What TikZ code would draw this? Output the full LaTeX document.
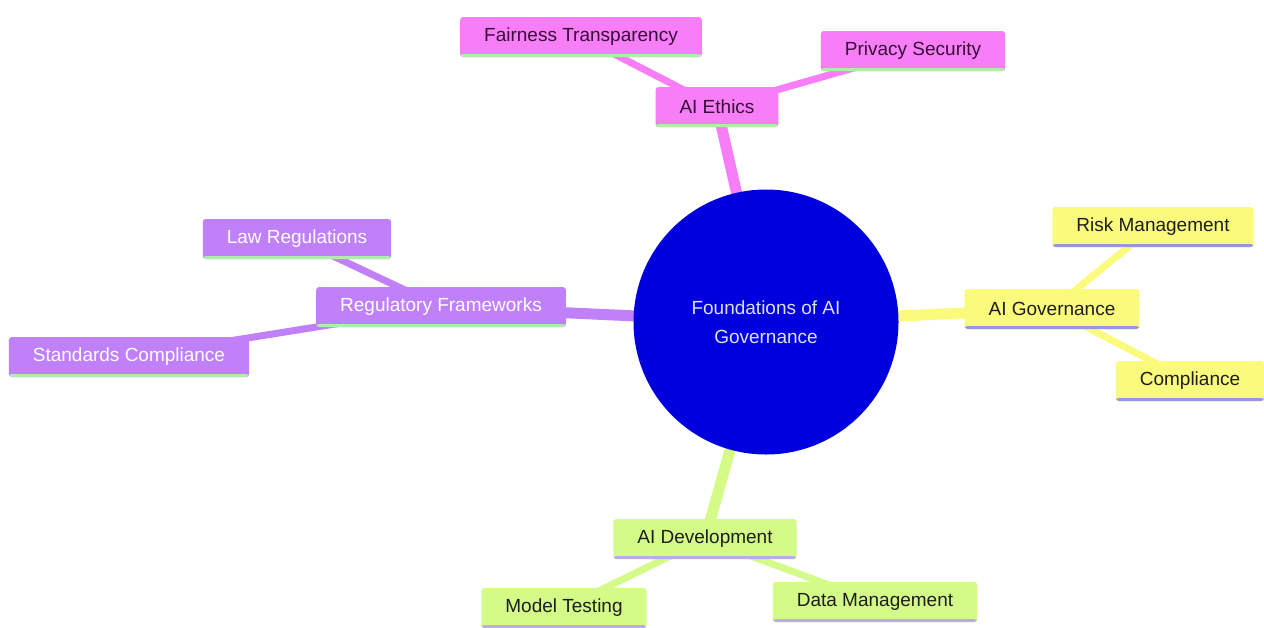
\documentclass[tikz,border=0pt]{standalone}
\usepackage{fontspec}
\setmainfont{Liberation Sans}
\usepackage{tikz}
\usetikzlibrary{backgrounds}

\definecolor{ethicsfill}{RGB}{247,126,247}
\definecolor{regfill}{RGB}{192,128,250}
\definecolor{govfill}{RGB}{250,250,125}
\definecolor{devfill}{RGB}{212,250,135}
\definecolor{rootfill}{RGB}{0,0,222}
\definecolor{roottext}{RGB}{222,222,245}
\definecolor{ethicstext}{RGB}{55,12,55}
\definecolor{darktext}{RGB}{30,30,30}
\definecolor{greenline}{RGB}{175,238,170}
\definecolor{blueline}{RGB}{150,150,222}
\definecolor{lilacline}{RGB}{185,172,232}

\tikzset{
  topic/.style 2 args={shape=rectangle, rounded corners=3pt, fill=#1, inner xsep=24pt,
    inner ysep=0pt, minimum height=40pt, font=\fontsize{19}{22}\selectfont,
    path picture={\fill[#2] ([yshift=3pt]path picture bounding box.south west)
      rectangle (path picture bounding box.south east);}},
  ethics/.style={topic={ethicsfill}{greenline}, text=ethicstext},
  reg/.style={topic={regfill}{greenline}, text=white},
  gov/.style={topic={govfill}{blueline}, text=darktext},
  dev/.style={topic={devfill}{lilacline}, text=darktext},
  main/.style={line width=11pt},
  sub/.style={line width=7pt}
}

\begin{document}
\begin{tikzpicture}[x=1pt, y=-1pt]
			\useasboundingbox (0,0) rectangle (1264,627);
			\node[shape=circle, fill=rootfill, minimum size=265pt, text=roottext, align=center,
			      font=\fontsize{19}{29}\selectfont] (root) at (766,322) {Foundations of AI\\Governance};
			
			\node[ethics] (ethics) at (717,107) {AI Ethics};
			\node[ethics] (fair) at (581,37) {Fairness Transparency};
			\node[ethics] (priv) at (913,51) {Privacy Security};
			
			\node[reg] (regf) at (441,307) {Regulatory Frameworks};
			\node[reg] (law) at (297,239) {Law Regulations};
			\node[reg] (std) at (129,357) {Standards Compliance};
			
			\node[gov] (gov) at (1052,309) {AI Governance};
			\node[gov] (risk) at (1153,227) {Risk Management};
			\node[gov] (comp) at (1190,381) {Compliance};
			
			\node[dev] (dev) at (705,539) {AI Development};
			\node[dev] (model) at (564,608) {Model Testing};
			\node[dev] (data) at (875,602) {Data Management};
			
			\begin{scope}[on background layer]
			\path [main, draw=ethicsfill] (root.center) -- (ethics.center);
			\path [main, draw=regfill] (root.center) -- (regf.center);
			\path [main, draw=govfill] (root.center) -- (gov.center);
			\path [main, draw=devfill] (root.center) -- (dev.center);
			\path [sub, draw=ethicsfill] (ethics.center) -- (fair.center);
			\path [sub, draw=ethicsfill] (ethics.center) -- (priv.center);
			\path [sub, draw=regfill] (regf.center) -- (law.center);
			\path [sub, draw=regfill] (regf.center) -- (std.center);
			\path [sub, draw=govfill] (gov.center) -- (risk.center);
			\path [sub, draw=govfill] (gov.center) -- (comp.center);
			\path [sub, draw=devfill] (dev.center) -- (model.center);
			\path [sub, draw=devfill] (dev.center) -- (data.center);
			\end{scope}
		\end{tikzpicture}
\end{document}
